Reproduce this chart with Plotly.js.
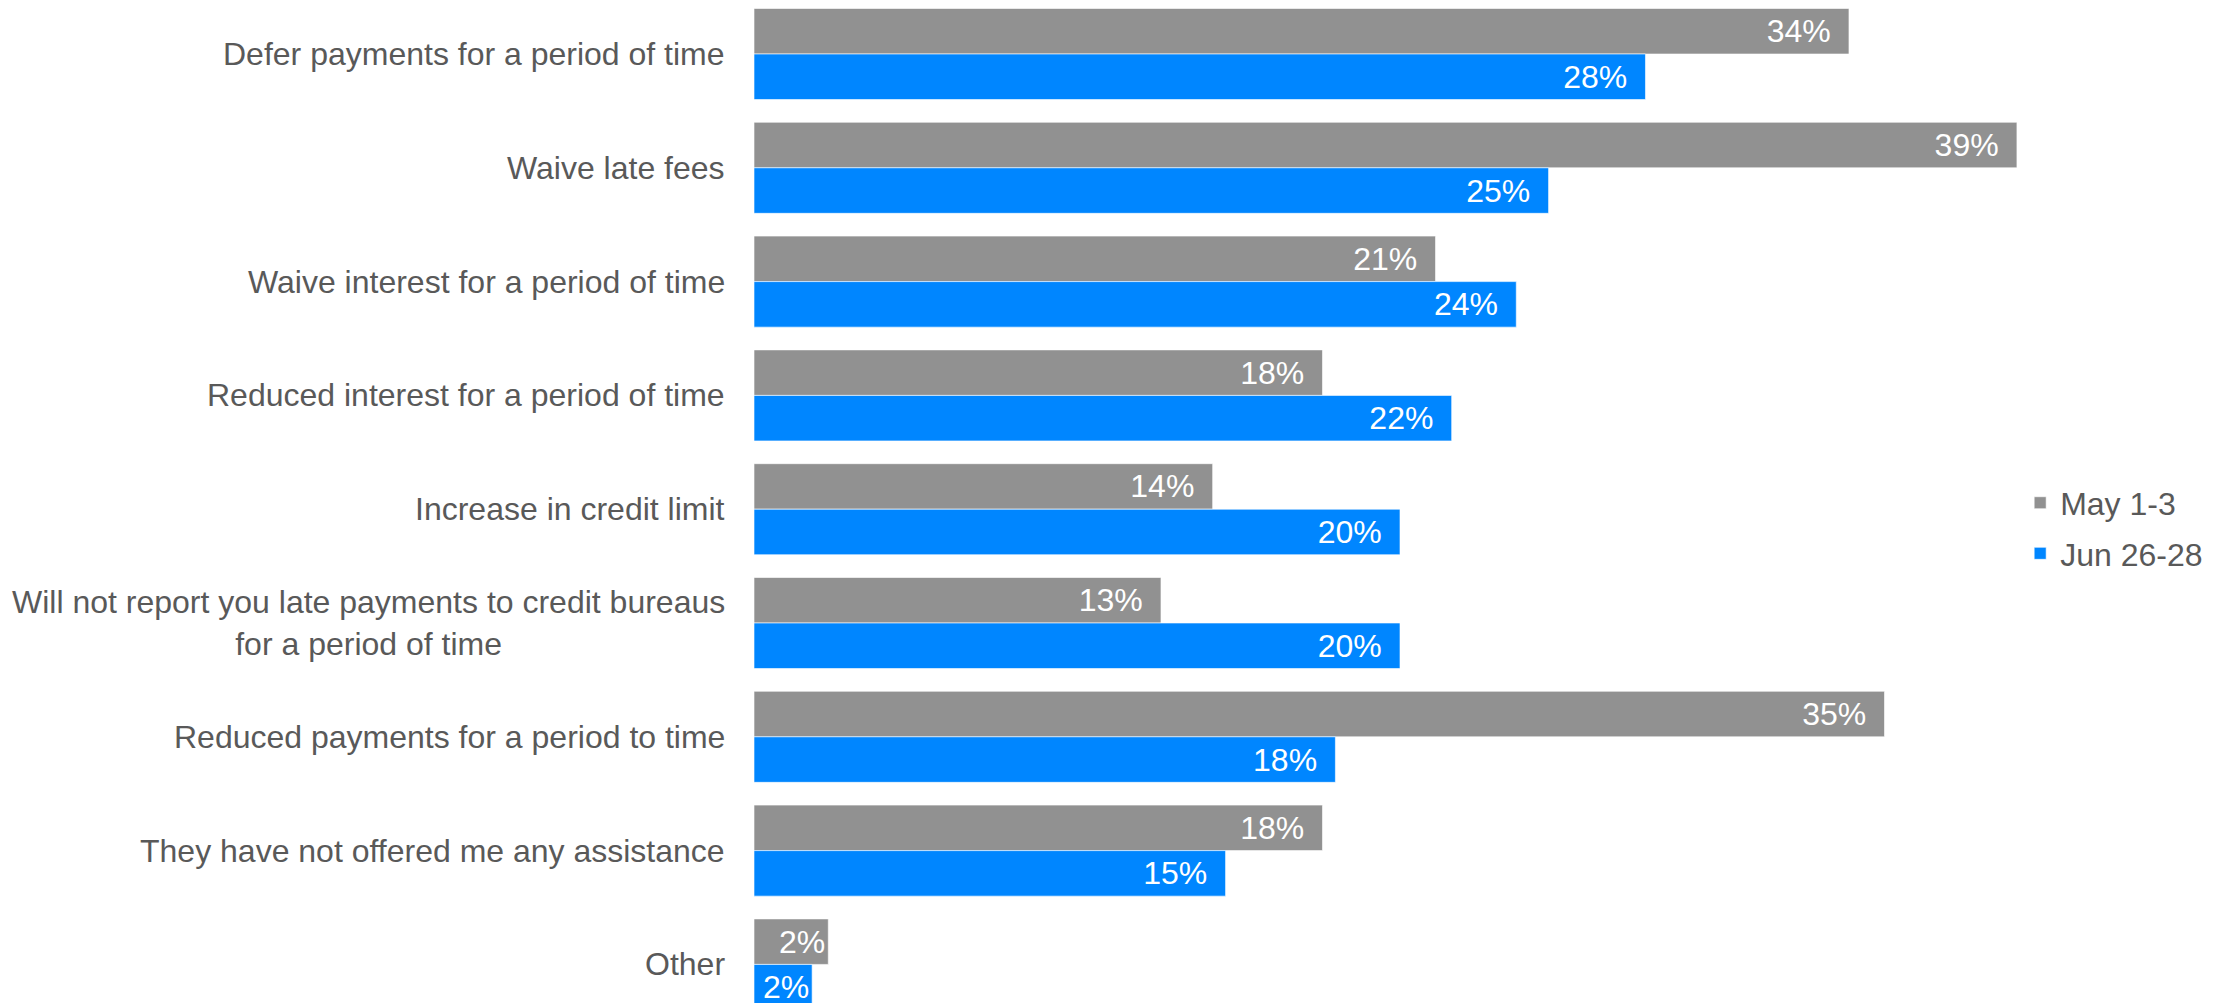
<!DOCTYPE html>
<html>
<head>
<meta charset="utf-8">
<script src="https://cdn.plot.ly/plotly-3.0.1.min.js"></script>
<style>html,body{margin:0;padding:0;background:#fff;}</style>
</head>
<body>
<div id="chart" style="width:2231px;height:1003px;"></div>
<script>
const categories = [
  "Defer payments for a period of time",
  "Waive late fees",
  "Waive interest for a period of time",
  "Reduced interest for a period of time",
  "Increase in credit limit",
  "Will not report you late payments to credit bureaus<br>for a period of time",
  "Reduced payments for a period to time",
  "They have not offered me any assistance",
  "Other"
];
const seriesNames = ["May 1-3", "Jun 26-28"];
const may = [33.9, 39.1, 21.1, 17.6, 14.2, 12.6, 35.0, 17.6, 2.3];
const jun = [27.6, 24.6, 23.6, 21.6, 20.0, 20.0, 18.0, 14.6, 1.8];

const textColor = "#595959";
const font = "'Liberation Sans', Arial, sans-serif";

function barTrace(name, values, color, group) {
  return {
    type: "bar",
    orientation: "h",
    name: name,
    legendgroup: group,
    y: categories,
    x: values,
    marker: {color: color, line: {color: "rgba(255,255,255,0.6)", width: 1}},
    text: values.map(v => Math.round(v) + "%" + (v < 3 ? "" : "\u00a0\u2009")),
    texttemplate: "%{text}",
    textposition: "inside",
    insidetextanchor: "end",
    constraintext: "none",
    textfont: {family: font, size: 32, color: "#ffffff"},
    hoverinfo: "none"
  };
}

const data = [
  barTrace(seriesNames[0], may, "#919191", "g1"),
  barTrace(seriesNames[1], jun, "#0086ff", "g2")
];

const annotations = categories.map(c => ({
  xref: "paper", yref: "y", x: 0, y: c,
  text: c, showarrow: false, xanchor: "right", yanchor: "middle",
  align: "center", xshift: -27,
  font: {family: font, size: 32, color: textColor}
}));

const layout = {
  width: 2231, height: 1003,
  margin: {l: 754, r: 185, t: 0, b: 0, pad: 0},
  paper_bgcolor: "#ffffff", plot_bgcolor: "#ffffff",
  barmode: "group", bargap: 0.2, bargroupgap: 0,
  showlegend: true,
  legend: {
    x: 0.98, xanchor: "left", y: 0.526, yanchor: "top",
    traceorder: "grouped", tracegroupgap: 6,
    font: {family: font, size: 32, color: textColor},
    bgcolor: "rgba(0,0,0,0)", borderwidth: 0
  },
  xaxis: {range: [0, 40], showgrid: false, zeroline: false, showticklabels: false, ticks: "", showline: false, fixedrange: true},
  yaxis: {type: "category", range: [8.339, -0.4745], showgrid: false, zeroline: false, showticklabels: false, ticks: "", showline: false, fixedrange: true},
  annotations: annotations
};

Plotly.newPlot("chart", data, layout, {displayModeBar: false, staticPlot: true});
</script>
</body>
</html>
